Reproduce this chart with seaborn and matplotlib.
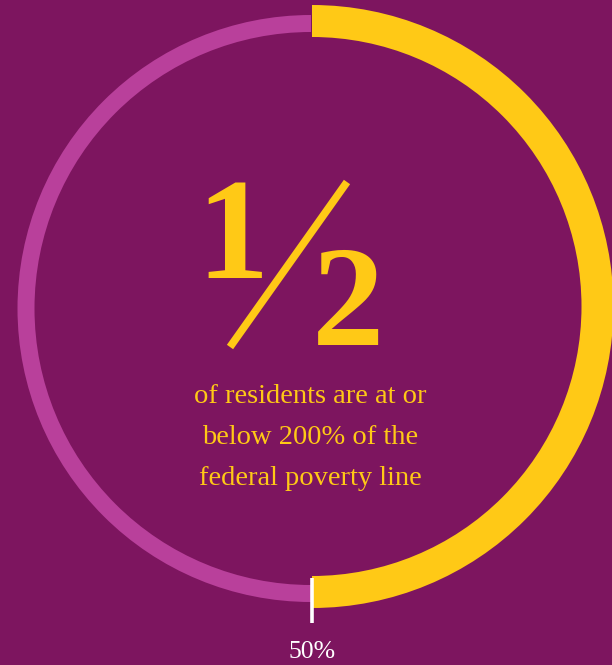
import matplotlib
matplotlib.use("Agg")
import matplotlib.pyplot as plt
import seaborn as sns

# ---- data ----
share_pct = [50, 50]            # share at/below 200% FPL, remainder
big_numerator = "1"
big_denominator = "2"
subtitle_lines = ["of residents are at or", "below 200% of the", "federal poverty line"]
value_label = "50%"

BG = "#7D155F"
YELLOW = "#FFC916"
PINK = "#B9409B"
WHITE = "#FFFFFF"

sns.set_theme(style="white")
plt.rcParams["font.family"] = ["Liberation Serif", "DejaVu Serif"]

W, H = 612, 665
fig = plt.figure(figsize=(W / 100, H / 100), dpi=100, facecolor=BG)
ax = fig.add_axes([0, 0, 1, 1])
ax.set_facecolor(BG)

cx, cy = 312, H - 306.5

# pink thin ring (remainder half)
ax.pie(share_pct, startangle=90, counterclock=False, radius=293.5, center=(cx - 1, H - 308.5),
       colors=["none", PINK], wedgeprops=dict(width=17, linewidth=0), frame=True)
# yellow thick ring (the share)
ax.pie(share_pct, startangle=90, counterclock=False, radius=301.5, center=(cx, cy),
       colors=[YELLOW, "none"], wedgeprops=dict(width=32, linewidth=0), frame=True)

ax.set_xlim(0, W)
ax.set_ylim(0, H)
ax.set_aspect("auto")
ax.axis("off")

# white marker at the 50% point
ax.plot([cx, cx], [H - 578, H - 623], color=WHITE, lw=2.6, solid_capstyle="butt")
ax.text(cx, H - 652, value_label, color=WHITE, fontsize=18.5, ha="center", va="center")

# big fraction
ax.text(233, H - 278, big_numerator, color=YELLOW, fontsize=104, fontweight="bold",
        ha="center", va="baseline")
ax.plot([230, 347], [H - 347, H - 182], color=YELLOW, lw=5.5, solid_capstyle="butt")
ax.text(348, H - 345, big_denominator, color=YELLOW, fontsize=104, fontweight="bold",
        ha="center", va="baseline")

# subtitle
for i, line in enumerate(subtitle_lines):
    ax.text(310, H - (403 + i * 41), line, color=YELLOW, fontsize=20.5,
            ha="center", va="baseline")

fig.savefig("out.png", dpi=100, facecolor=BG)
